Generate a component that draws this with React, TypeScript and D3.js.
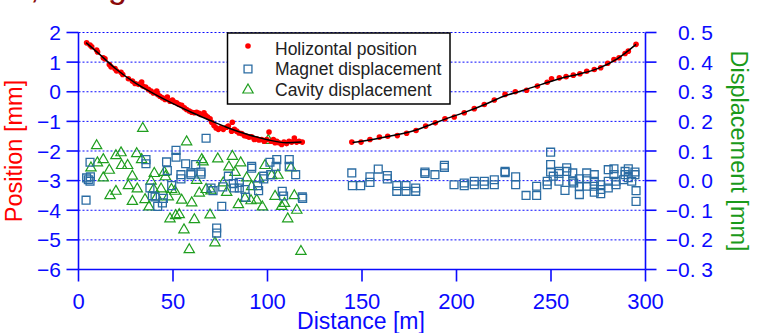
import React from 'react';
import * as d3 from 'd3';

const W = 759;
const H = 333;

// x ticks / left ticks / right ticks
const distTicks = [0, 50, 100, 150, 200, 250, 300];
const posTicks = [2, 1, 0, -1, -2, -3, -4, -5, -6];
const dispTicks = [0.5, 0.4, 0.3, 0.2, 0.1, 0.0, -0.1, -0.2, -0.3];

// Holizontal position [mm], first section
const posDist1 = [4.3, 6.1, 7.0, 9.6, 10.1, 13.1, 14.0, 16.3, 17.2, 19.3, 20.2, 22.5, 23.4, 26.4, 28.5, 29.9, 31.7, 33.4, 34.0, 35.5, 37.0, 38.4, 39.6, 41.4, 41.9, 43.1, 44.4, 45.8, 47.0, 48.4, 49.7, 50.7, 51.9, 53.2, 54.6, 56.0, 57.2, 58.6, 59.9, 61.3, 62.5, 63.8, 64.8, 66.4, 67.3, 68.3, 69.6, 70.5, 71.7, 72.8, 74.0, 75.4, 76.6, 78.4, 79.3, 81.4, 81.0, 82.5, 83.7, 84.9, 86.3, 87.7, 89.0, 90.2, 91.6, 93.0, 94.3, 95.5, 96.9, 98.3, 99.6, 100.8, 101.9, 103.1, 104.0, 104.9, 106.1, 107.5, 108.7, 110.1, 111.4, 112.8, 114.2, 115.4, 116.7, 118.4];
const posVal1 = [1.65, 1.58, 1.52, 1.41, 1.34, 1.15, 1.11, 0.92, 0.84, 0.78, 0.70, 0.66, 0.58, 0.44, 0.36, 0.28, 0.25, 0.33, 0.19, 0.16, 0.08, 0.02, -0.04, 0.02, -0.09, -0.15, -0.20, -0.26, -0.18, -0.32, -0.28, -0.35, -0.37, -0.43, -0.46, -0.54, -0.60, -0.65, -0.69, -0.71, -0.69, -0.73, -0.77, -0.71, -0.80, -0.85, -0.91, -1.03, -1.14, -1.22, -1.27, -1.22, -1.27, -1.20, -1.16, -1.03, -1.33, -1.27, -1.33, -1.39, -1.41, -1.48, -1.50, -1.53, -1.52, -1.61, -1.59, -1.63, -1.61, -1.67, -1.61, -1.36, -1.67, -1.61, -1.72, -1.67, -1.72, -1.78, -1.70, -1.75, -1.67, -1.70, -1.56, -1.70, -1.67, -1.70];

// Holizontal position [mm], second section
const posDist2 = [144.6, 149.5, 154.2, 159.2, 163.6, 168.7, 173.6, 178.6, 183.7, 188.8, 193.9, 198.8, 204.1, 209.4, 214.7, 220.0, 225.7, 231.1, 237.1, 242.8, 248.0, 250.3, 254.4, 258.0, 261.8, 265.3, 268.9, 272.9, 276.3, 280.0, 283.3, 286.0, 289.2, 290.9, 295.0];
const posVal2 = [-1.70, -1.70, -1.61, -1.53, -1.50, -1.48, -1.40, -1.31, -1.16, -1.05, -0.91, -0.85, -0.71, -0.57, -0.43, -0.28, -0.09, 0.00, 0.05, 0.19, 0.32, 0.44, 0.47, 0.51, 0.56, 0.61, 0.69, 0.75, 0.81, 0.96, 1.09, 1.15, 1.29, 1.37, 1.60];

// fitted curves
const fitDist1 = [4, 10, 20, 30, 40, 50, 60, 70, 80, 90, 100, 110, 118];
const fitVal1 = [1.66, 1.33, 0.76, 0.30, -0.07, -0.40, -0.70, -0.98, -1.24, -1.45, -1.62, -1.72, -1.70];
const fitDist2 = [145, 155, 165, 175, 185, 195, 205, 215, 225, 235, 245, 255, 265, 275, 285, 295];
const fitVal2 = [-1.71, -1.62, -1.49, -1.36, -1.14, -0.90, -0.68, -0.43, -0.15, 0.04, 0.25, 0.45, 0.60, 0.79, 1.11, 1.60];

// Magnet displacement [mm]
const magDist = [4.0, 4.3, 5.2, 6.1, 6.1, 6.3, 35.7, 35.7, 37.8, 39.1, 40.5, 41.9, 44.4, 44.9, 46.6, 47.0, 49.3, 51.6, 51.6, 54.2, 54.2, 56.7, 59.5, 59.5, 62.0, 64.8, 64.8, 67.5, 70.1, 71.2, 73.1, 73.1, 75.8, 76.3, 79.3, 81.9, 82.4, 85.1, 85.1, 88.1, 88.4, 91.6, 91.6, 94.8, 95.3, 98.0, 98.0, 101.3, 101.7, 104.9, 104.5, 107.8, 108.5, 111.5, 111.5, 114.9, 118.4, 118.6,
  144.6, 144.9, 149.3, 154.2, 154.2, 158.6, 163.4, 163.4, 168.4, 168.4, 173.3, 173.3, 178.4, 178.4, 183.3, 183.3, 188.6, 193.6, 193.6, 198.7, 204.1, 204.1, 209.4, 209.4, 214.7, 214.7, 220.0, 220.0, 225.7, 225.7, 231.3, 231.3, 236.8, 242.4, 242.4, 248.0, 248.0, 249.8, 249.8, 249.8, 251.2, 254.2, 254.2, 254.2, 258.3, 258.3, 257.4, 261.5, 261.5, 262.0, 265.0, 265.0, 265.0, 268.9, 268.9, 268.9, 272.9, 272.9, 272.9, 272.9, 276.3, 276.3, 276.3, 280.3, 280.3, 280.3, 283.3, 283.3, 284.4, 284.4, 288.3, 289.2, 289.2, 290.9, 290.9, 292.7, 294.4, 294.4, 295.0, 295.0];
const magVal = [-0.066, 0.009, 0.003, -0.002, 0.062, 0.013, 0.071, 0.057, -0.025, -0.051, -0.055, -0.087, -0.075, -0.060, 0.063, 0.034, -0.017, 0.102, 0.079, 0.020, 0.006, 0.057, 0.026, 0.020, 0.054, 0.029, 0.022, 0.143, -0.025, -0.034, -0.160, -0.177, -0.087, -0.021, 0.015, -0.010, -0.025, -0.006, -0.025, -0.030, -0.056, 0.048, 0.042, -0.017, -0.034, 0.015, 0.006, 0.062, 0.020, 0.071, 0.048, -0.036, -0.052, 0.071, 0.048, 0.020, -0.055, -0.060,
  0.026, -0.017, -0.017, 0.013, -0.006, 0.039, 0.017, 0.006, -0.017, -0.036, -0.017, -0.036, -0.025, -0.036, 0.029, 0.024, 0.020, 0.052, 0.045, -0.014, -0.008, -0.017, -0.002, -0.014, -0.002, -0.014, 0.003, -0.014, 0.031, 0.027, 0.013, -0.014, -0.050, -0.019, -0.050, -0.002, -0.014, 0.096, 0.054, 0.029, 0.015, 0.031, 0.024, -0.002, 0.043, 0.031, -0.033, 0.026, -0.002, -0.008, 0.006, -0.019, -0.047, 0.026, 0.006, -0.019, 0.020, -0.002, -0.019, -0.039, -0.014, -0.030, -0.044, 0.037, -0.002, -0.025, 0.040, 0.020, -0.002, -0.014, 0.003, 0.031, 0.020, 0.040, 0.010, -0.002, 0.029, 0.020, -0.034, -0.070];

// Cavity displacement [mm]
const cavDist = [9.6, 6.6, 10.0, 13.1, 13.1, 16.3, 16.7, 19.8, 19.8, 22.5, 22.8, 26.0, 26.4, 28.5, 28.5, 30.8, 31.1, 34.0, 33.4, 35.2, 37.3, 38.4, 40.1, 39.8, 41.4, 43.7, 45.4, 46.0, 47.5, 48.4, 49.2, 51.0, 51.4, 53.3, 54.6, 55.8, 57.2, 58.6, 59.9, 61.3, 62.5, 63.9, 65.2, 65.9, 67.5, 69.6, 70.1, 72.2, 73.7, 76.6, 78.4, 79.6, 81.4, 82.8, 84.6, 85.8, 88.1, 89.0, 91.3, 91.6, 94.3, 95.3, 97.3, 98.7, 100.4, 102.2, 104.0, 105.5, 107.5, 109.0, 110.7, 112.4, 114.2, 115.5, 117.7];
const cavVal = [0.118, 0.043, 0.060, 0.071, 0.009, 0.035, -0.051, 0.084, -0.036, 0.094, 0.051, 0.051, -0.017, 0.015, -0.070, 0.091, -0.028, 0.176, 0.071, -0.064, -0.089, -0.002, 0.024, -0.030, -0.055, -0.028, 0.028, 0.013, -0.055, -0.129, -0.030, -0.036, -0.118, -0.115, -0.066, -0.166, 0.131, -0.233, -0.075, -0.132, 0.001, -0.042, 0.071, 0.063, -0.030, -0.116, -0.035, -0.210, 0.073, -0.008, -0.040, 0.046, 0.082, 0.028, -0.081, 0.060, -0.060, 0.009, -0.068, -0.020, -0.066, 0.006, -0.089, 0.051, 0.136, 0.017, -0.053, 0.018, -0.087, -0.077, -0.129, 0.043, -0.051, -0.100, -0.239];

const BLUE = '#0a0aff';
const SQ = '#2b6ca3';
const TRI = '#1f9e1f';
const FONT = '"Liberation Sans", Arial, sans-serif';

const x = d3.scaleLinear().domain([0, 300]).range([78.5, 645.5]);
const yL = d3.scaleLinear().domain([-6, 2]).range([269.5, 32.5]);
const yR = d3.scaleLinear().domain([-0.3, 0.5]).range([269.5, 32.5]);

const fmtR = (d: number) => (d < 0 ? '\u2212' : '') + Math.abs(d).toFixed(1).replace('.', '. ');
const fmtL = (d: number) => (d < 0 ? '\u2212' : '') + Math.abs(d);

const sqPath = d3.symbol(d3.symbolSquare, 62)()!;
const triPath = d3.symbol(d3.symbolTriangle, 46)()!;

export default function App() {
  const line = d3.line<number>().curve(d3.curveMonotoneX);
  const fit1 = line(fitDist1.map((d, i) => [x(d), yL(fitVal1[i])]) as any);
  const fit2 = line(fitDist2.map((d, i) => [x(d), yL(fitVal2[i])]) as any);
  const pos = [
    ...posDist1.map((d, i) => [d, posVal1[i]]),
    ...posDist2.map((d, i) => [d, posVal2[i]]),
  ];
  const [x0, x1] = x.range();

  return (
    <svg width={W} height={H} style={{ position: 'absolute', left: 0, top: 0, background: '#fff' }}>
      {/* cropped title above the chart */}
      <text y={-2} fill="#8b0a0a" fontFamily={FONT} fontSize={34}>
        <tspan x={30}>,</tspan>
        <tspan x={108}>g</tspan>
      </text>

      {/* grid */}
      {posTicks.slice(0, -1).map(t => (
        <line key={t} x1={x0} x2={x1} y1={yL(t)} y2={yL(t)} stroke={BLUE} strokeWidth={1} strokeDasharray="2,2" />
      ))}

      {/* axes */}
      <line x1={x0} x2={x1} y1={yL(-6)} y2={yL(-6)} stroke={BLUE} strokeWidth={1.6} />
      <line x1={x0} x2={x0} y1={yL(2)} y2={yL(-6)} stroke={BLUE} strokeWidth={1.6} />
      <line x1={x1} x2={x1} y1={yL(2)} y2={yL(-6)} stroke={BLUE} strokeWidth={1.6} />
      {posTicks.map(t => (
        <g key={'l' + t}>
          <line x1={x0 - 12} x2={x0} y1={yL(t)} y2={yL(t)} stroke={BLUE} strokeWidth={1.6} />
          <text x={61} y={yL(t) + 7.5} textAnchor="end" fill={BLUE} fontFamily={FONT} fontSize={21}>{fmtL(t)}</text>
        </g>
      ))}
      {dispTicks.map(t => (
        <g key={'r' + t}>
          <line x1={x1} x2={x1 + 11} y1={yR(t)} y2={yR(t)} stroke={BLUE} strokeWidth={1.6} />
          <text x={713} y={yR(t) + 7.5} textAnchor="end" fill={BLUE} fontFamily={FONT} fontSize={21}>{fmtR(t)}</text>
        </g>
      ))}
      {distTicks.map(t => (
        <g key={'b' + t}>
          <line x1={x(t)} x2={x(t)} y1={yL(-6)} y2={yL(-6) + 12} stroke={BLUE} strokeWidth={1.6} />
          <text x={x(t)} y={309} textAnchor="middle" fill={BLUE} fontFamily={FONT} fontSize={22}>{t}</text>
        </g>
      ))}

      {/* axis titles */}
      <text transform="translate(22,151) rotate(-90)" textAnchor="middle" fill="#ff0000" fontFamily={FONT} fontSize={23.5}>Position [mm]</text>
      <text transform="translate(731,151) rotate(90)" textAnchor="middle" fill="#1a9a1a" fontFamily={FONT} fontSize={23.5}>Displacement [mm]</text>
      <text x={361} y={329} textAnchor="middle" fill={BLUE} fontFamily={FONT} fontSize={23}>Distance [m]</text>

      {/* cavity */}
      {cavDist.map((d, i) => (
        <path key={'c' + i} d={triPath} transform={`translate(${x(d)},${yR(cavVal[i])})`} fill="none" stroke={TRI} strokeWidth={1.2} />
      ))}
      {/* magnets */}
      {magDist.map((d, i) => (
        <path key={'m' + i} d={sqPath} transform={`translate(${x(d)},${yR(magVal[i])})`} fill="none" stroke={SQ} strokeWidth={1.3} />
      ))}
      {/* position */}
      {pos.map(([d, v], i) => (
        <circle key={'p' + i} cx={x(d)} cy={yL(v)} r={2.8} fill="#ff0000" />
      ))}
      <path d={fit1 || ''} fill="none" stroke="#000" strokeWidth={1.5} />
      <path d={fit2 || ''} fill="none" stroke="#000" strokeWidth={1.5} />

      {/* legend */}
      <g fontFamily={FONT} fontSize={17.5} fill="#222">
        <rect x={227.5} y={33} width={222.5} height={71} fill="#fff" stroke="#000" strokeWidth={1.5} />
        <circle cx={248} cy={46} r={2.8} fill="#ff0000" />
        <text x={275} y={54.5}>Holizontal position</text>
        <path d={sqPath} transform="translate(248,69)" fill="none" stroke={SQ} strokeWidth={1.3} />
        <text x={275} y={75}>Magnet displacement</text>
        <path d={triPath} transform="translate(248,90)" fill="none" stroke={TRI} strokeWidth={1.2} />
        <text x={275} y={95.5}>Cavity displacement</text>
      </g>
    </svg>
  );
}
